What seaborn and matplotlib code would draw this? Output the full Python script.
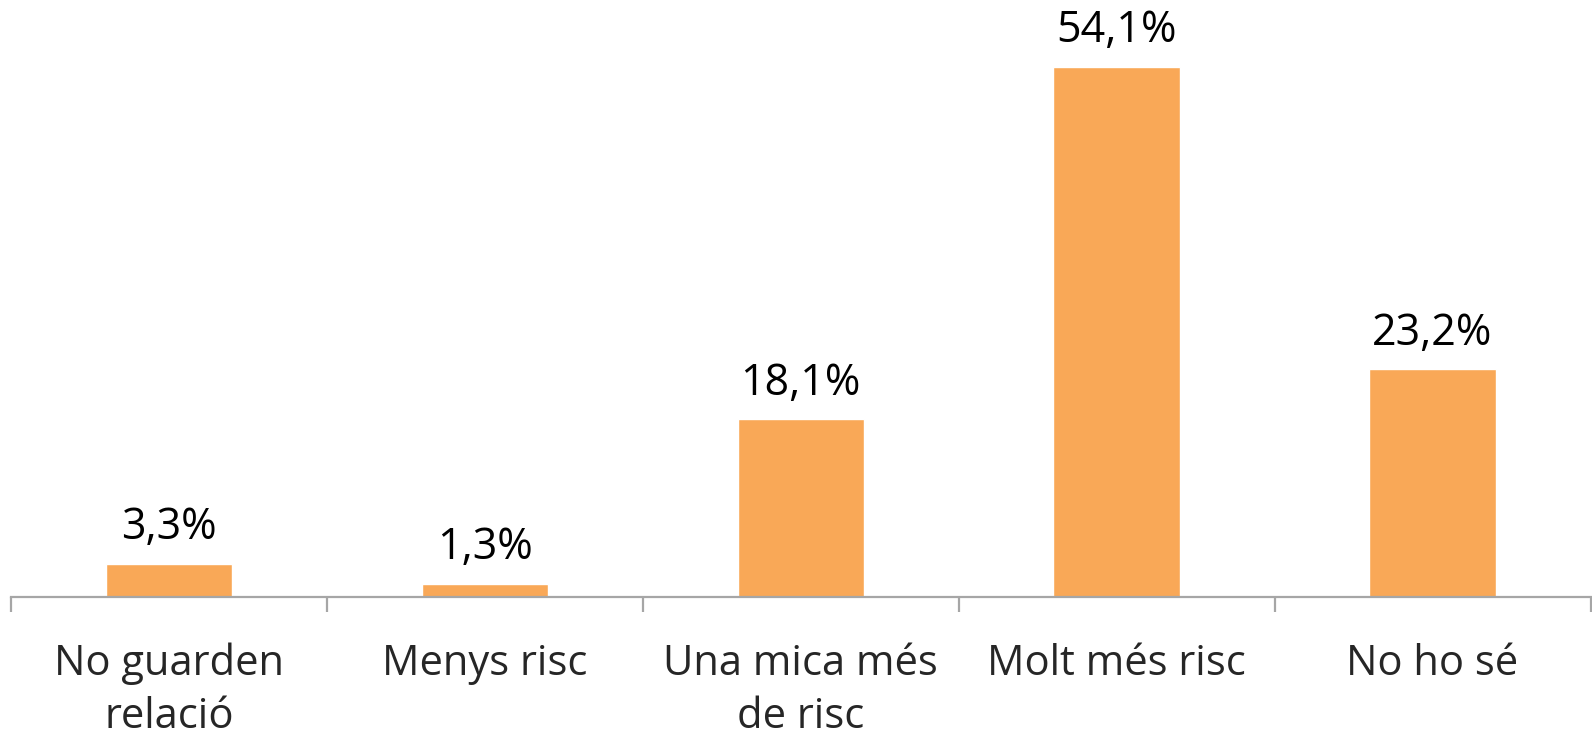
import numpy as np
import pandas as pd
import matplotlib
matplotlib.use("Agg")
import matplotlib.pyplot as plt
import seaborn as sns

# dades
categories = ["No guarden\nrelació", "Menys risc", "Una mica més\nde risc", "Molt més risc", "No ho sé"]
valors = [3.3, 1.3, 18.1, 54.1, 23.2]
etiquetes = ["3,3%", "1,3%", "18,1%", "54,1%", "23,2%"]

df = pd.DataFrame({"Categoria": categories, "Valor": valors})

sns.set_style("white")
plt.rcParams['font.family'] = ['Open Sans', 'DejaVu Sans']

fig = plt.figure(figsize=(15.92, 7.35), dpi=100)
ax = fig.add_axes([11 / 1592, 1 - 596.7 / 735, (1590.5 - 11) / 1592, (596.7 - 9) / 735])

sns.barplot(data=df, x="Categoria", y="Valor", color="#F9A857", width=0.4,
            saturation=1, ax=ax)

# etichete valori
for i, (v, t) in enumerate(zip(valors, etiquetes)):
    ax.annotate(t, (i, v), xytext=(0, 10), textcoords="offset points",
                ha="center", va="bottom", fontsize=31, color="black")

ax.set_xlim(-0.5, 4.5)
ax.set_ylim(0, 60)
ax.set_xlabel("")
ax.set_ylabel("")
ax.set_yticks([])
for s in ["top", "right", "left"]:
    ax.spines[s].set_visible(False)
ax.spines["bottom"].set_color("#A6A6A6")
ax.spines["bottom"].set_linewidth(1.6)

ax.set_xticks(np.arange(-0.5, 5, 1), minor=True)
ax.tick_params(axis="x", which="minor", bottom=True, length=11, width=1.6,
               color="#A6A6A6", direction="out")
ax.tick_params(axis="x", which="major", bottom=True, length=0, pad=33, labelsize=30)
for lab in ax.get_xticklabels():
    lab.set_linespacing(1.35)

plt.savefig("out.png", dpi=100)
